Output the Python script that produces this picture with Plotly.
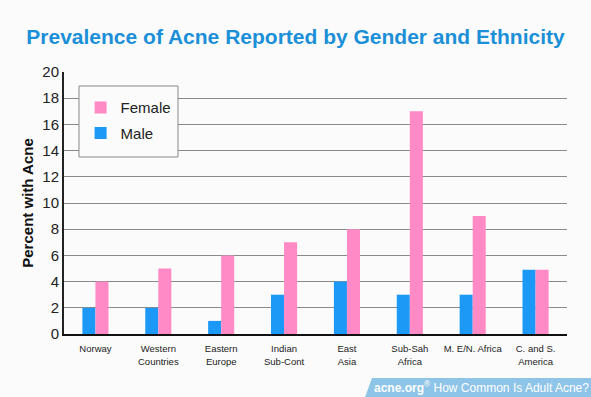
import plotly.graph_objects as go

categories = ["Norway", "Western<br>Countries", "Eastern<br>Europe", "Indian<br>Sub-Cont",
              "East<br>Asia", "Sub-Sah<br>Africa", "M. E/N. Africa", "C. and S.<br>America"]
male = [2, 2, 1, 3, 4, 3, 3, 4.9]
female = [4, 5, 6, 7, 8, 17, 9, 4.9]
y_ticks = [0, 2, 4, 6, 8, 10, 12, 14, 16, 18, 20]

FONT = "Liberation Sans, Arial, Helvetica, sans-serif"
PINK = "#ff8ac6"
BLUE = "#1c98f7"

fig = go.Figure()
fig.add_trace(go.Bar(x=categories, y=male, name="Male", marker=dict(color=BLUE, line=dict(width=0)),
                     legendgroup="m", legendrank=2))
fig.add_trace(go.Bar(x=categories, y=female, name="Female", marker=dict(color=PINK, line=dict(width=0)),
                     legendgroup="f", legendrank=1))

fig.update_layout(
    width=591, height=397,
    margin=dict(l=64, r=24, t=72, b=63),
    paper_bgcolor="#fbfbfb", plot_bgcolor="#fbfbfb",
    barmode="group", bargap=0.585, bargroupgap=0,
    font=dict(family=FONT, color="#222"),
    title=dict(text="<b>Prevalence of Acne Reported by Gender and Ethnicity</b>",
               x=0.5, xanchor="center", y=0.907, yanchor="middle",
               font=dict(size=21, color="#1b8fd8", family=FONT)),
    showlegend=True,
    legend=dict(x=0.033, y=0.927, xanchor="left", yanchor="top",
                borderwidth=0, bgcolor="rgba(0,0,0,0)",
                traceorder="grouped", tracegroupgap=3,
                font=dict(size=15, color="#222"),
                itemwidth=30),
    xaxis=dict(showline=True, linecolor="#111", linewidth=2, ticks="",
               tickfont=dict(size=9.5, color="#222"), showgrid=False,
               ticklabelstandoff=5, fixedrange=True),
    yaxis=dict(range=[0, 20], tickvals=y_ticks, showline=True, linecolor="#222", linewidth=2,
               showgrid=True, gridcolor="#8a8a8a", gridwidth=1, ticks="",
               tickfont=dict(size=15, color="#222"),
               title=dict(text="<b>Percent with Acne</b>", font=dict(size=15, color="#111"), standoff=5),
               zeroline=False, fixedrange=True),
    shapes=[
        dict(type="rect", xref="paper", yref="paper", x0=0.0298, x1=0.2266, y0=0.6756, y1=0.9466,
             fillcolor="#fbfbfb", line=dict(color="#888", width=1), layer="above"),
        dict(type="path", xref="paper", yref="paper",
             path="M 0.6123 -0.168 L 1.1 -0.168 L 1.1 -0.25 L 0.5968 -0.25 Z",
             fillcolor="#8ec4e8", line=dict(width=0), layer="above"),
    ],
    annotations=[dict(text="<b>acne.org</b><sup>®</sup> How Common Is Adult Acne?",
                      xref="paper", yref="paper", x=1.047, y=-0.2023, xanchor="right", yanchor="middle",
                      showarrow=False, font=dict(size=12, color="white", family=FONT))],
)

fig.write_html("out.html", config={"displayModeBar": False},
               post_script="document.body.style.margin='0';document.body.style.background='#fbfbfb';")
